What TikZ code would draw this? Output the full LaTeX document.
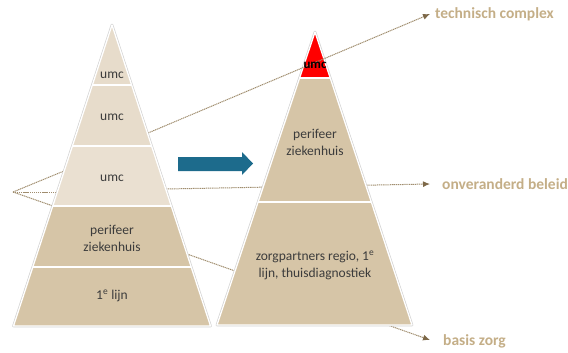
\documentclass[tikz,border=0pt]{standalone}
\usepackage{fontspec}
\setmainfont{Carlito}
\usetikzlibrary{arrows.meta}
\definecolor{tanD}{HTML}{D6C5A7}
\definecolor{tanL}{HTML}{EAE0D1}
\definecolor{tanT}{HTML}{E7DCCB}
\definecolor{lineC}{HTML}{A08D6E}
\definecolor{tipC}{HTML}{7D6848}
\definecolor{labC}{HTML}{C4AE87}
\definecolor{blueA}{HTML}{1D6B8C}
\definecolor{txtC}{HTML}{3C3C3C}
\tikzset{
  dots/.style={draw=lineC, line width=1pt, dash pattern=on 1.2pt off 0.7pt},
  dotarrow/.style={dots, -{Latex[length=7pt,width=6pt,color=tipC,fill=tipC]}},
  ptext/.style={font=\fontsize{13.5}{17}\selectfont, text=txtC, align=center, inner sep=0pt},
  lab/.style={font=\fontsize{15.5}{17}\selectfont\bfseries, text=labC, anchor=west, inner sep=0pt},
  sep/.style={draw=white, line width=2pt},
  rim/.style={draw=white, line width=1.3pt, line join=round},
  shade/.style={draw=black!18, line width=2.6pt, line join=round},
}
\begin{document}
\begin{tikzpicture}[x=1pt,y=-1pt]
\useasboundingbox (0,0) rectangle (568,353);
% coordinates
\coordinate (fan) at (13,192);
\coordinate (lA) at (64,171);
\coordinate (lB) at (57,192);
\coordinate (lC) at (53,206);
\coordinate (s2) at (148,133);
\coordinate (s3) at (166,189);
\coordinate (s4) at (187,254);
\coordinate (e2) at (430,14);
\coordinate (e3) at (430,184);
\coordinate (e4) at (430,340);
% connectors behind pyramids
\draw[dots] (fan) -- (lA);
\draw[dots] (fan) -- (lB);
\draw[dots] (fan) -- (lC);
\draw[dotarrow] (s3) -- (e3);
\draw[dotarrow] (s4) -- (e4);
% right pyramid
\draw[shade] (315,32) -- (217,325) -- (412,325) -- cycle;
\begin{scope}
\clip (315,32) -- (217,325) -- (412,325) -- cycle;
\fill[tanD] (200,0) rectangle (430,330);
\fill[red] (200,0) rectangle (430,78);
\draw[sep] (200,78) -- (430,78) (200,202) -- (430,202);
\end{scope}
\draw[rim] (315,32) -- (217,325) -- (412,325) -- cycle;
% line to technisch complex
\draw[dotarrow] (s2) -- (e2);
% left pyramid
\draw[shade] (112,25) -- (13.5,326) -- (210.5,326) -- cycle;
\begin{scope}
\clip (112,25) -- (13.5,326) -- (210.5,326) -- cycle;
\fill[tanD] (0,206) rectangle (230,330);
\fill[tanT] (0,0) rectangle (230,146);
\fill[tanL] (0,146) rectangle (230,206);
\draw[sep] (0,85) -- (230,85) (0,146) -- (230,146) (0,206) -- (230,206) (0,267) -- (230,267);
\end{scope}
\draw[rim] (112,25) -- (13.5,326) -- (210.5,326) -- cycle;
% blue arrow
\fill[blueA] (178,157) -- (242,157) -- (242,152) -- (253,163.5) -- (242,175) -- (242,171) -- (178,171) -- cycle;
% left texts
\node[ptext] (u1) at (112,75) {umc};
\node[ptext] (u2) at (112,117) {umc};
\node[ptext] (u3) at (112,178) {umc};
\node[ptext] (p1) at (112,238) {perifeer\\ziekenhuis};
\node[ptext] (l1) at (112,296) {1\textsuperscript{e} lijn};
% right texts
\node[ptext, text=black, font=\fontsize{13}{16}\selectfont\bfseries] (u4) at (315,65) {umc};
\node[ptext] (p2) at (315,142) {perifeer\\ziekenhuis};
\node[ptext] (z2) at (315,265.5) {zorgpartners regio, 1\textsuperscript{e}\\lijn, thuisdiagnostiek};
% labels
\node[lab] (t1) at (435,14) {technisch complex};
\node[lab] (t2) at (442,184) {onveranderd beleid};
\node[lab] (t3) at (443,341) {basis zorg};
\end{tikzpicture}
\end{document}
